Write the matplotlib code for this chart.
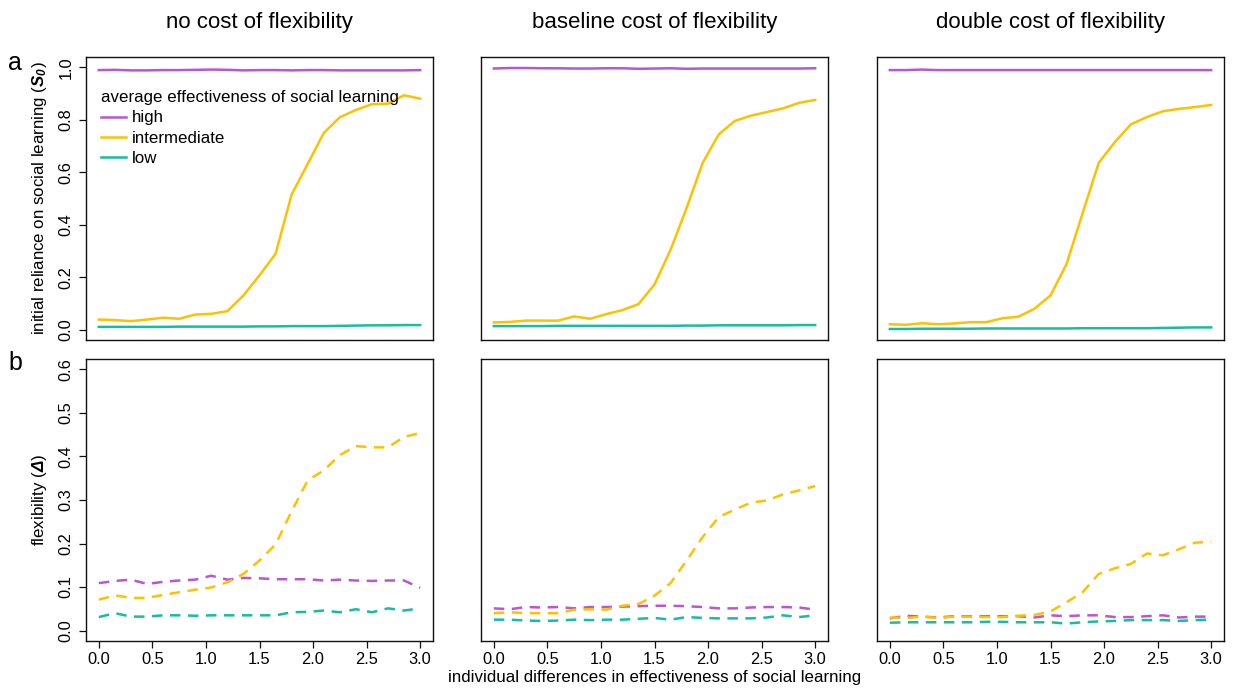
import numpy as np
import matplotlib
matplotlib.use("Agg")
import matplotlib.pyplot as plt
from matplotlib.lines import Line2D

plt.rcParams['font.family'] = ['Liberation Sans', 'DejaVu Sans']
plt.rcParams['mathtext.fontset'] = 'custom'
plt.rcParams['mathtext.rm'] = 'Liberation Sans'
plt.rcParams['mathtext.it'] = 'Liberation Sans:italic'
plt.rcParams['mathtext.bf'] = 'Liberation Sans:bold:italic'

# ---- data ----
x = np.round(np.arange(21) * 0.15, 2)

titles = ["no cost of flexibility", "baseline cost of flexibility", "double cost of flexibility"]
series_names = ["high", "intermediate", "low"]
colors = ["#BA55D3", "#FFC000", "#14BE9E"]

# row a: initial reliance on social learning
a_high_1 = [0.990, 0.991, 0.989, 0.989, 0.990, 0.990, 0.991, 0.992, 0.991, 0.989, 0.990,
            0.990, 0.989, 0.990, 0.990, 0.989, 0.989, 0.989, 0.989, 0.989, 0.990]
a_mid_1 = [0.038, 0.036, 0.032, 0.038, 0.045, 0.041, 0.057, 0.060, 0.070, 0.130, 0.207,
           0.289, 0.515, 0.632, 0.750, 0.810, 0.838, 0.860, 0.862, 0.894, 0.881]
a_low_1 = [0.010, 0.010, 0.010, 0.010, 0.010, 0.011, 0.011, 0.011, 0.011, 0.011, 0.012,
           0.012, 0.013, 0.013, 0.013, 0.014, 0.015, 0.016, 0.016, 0.017, 0.017]

a_high_2 = [0.996, 0.998, 0.998, 0.997, 0.997, 0.996, 0.996, 0.997, 0.997, 0.995, 0.996,
            0.997, 0.995, 0.996, 0.996, 0.996, 0.996, 0.996, 0.996, 0.996, 0.997]
a_mid_2 = [0.027, 0.029, 0.034, 0.034, 0.034, 0.050, 0.041, 0.059, 0.074, 0.097, 0.172,
           0.304, 0.464, 0.636, 0.745, 0.796, 0.816, 0.830, 0.844, 0.865, 0.876]
a_low_2 = [0.013, 0.013, 0.013, 0.013, 0.014, 0.014, 0.014, 0.014, 0.014, 0.014, 0.014,
           0.014, 0.015, 0.015, 0.016, 0.016, 0.016, 0.016, 0.016, 0.017, 0.017]

a_high_3 = [0.990, 0.990, 0.992, 0.990, 0.990, 0.990, 0.990, 0.990, 0.990, 0.990, 0.990,
            0.990, 0.990, 0.990, 0.990, 0.990, 0.990, 0.990, 0.990, 0.990, 0.990]
a_mid_3 = [0.020, 0.018, 0.024, 0.020, 0.023, 0.028, 0.028, 0.043, 0.049, 0.079, 0.130,
           0.250, 0.444, 0.636, 0.715, 0.783, 0.811, 0.833, 0.842, 0.849, 0.857]
a_low_3 = [0.002, 0.002, 0.003, 0.003, 0.003, 0.003, 0.004, 0.004, 0.004, 0.004, 0.004,
           0.004, 0.005, 0.005, 0.005, 0.005, 0.005, 0.006, 0.007, 0.008, 0.008]

# row b: flexibility
b_high_1 = [0.109, 0.114, 0.117, 0.107, 0.112, 0.115, 0.117, 0.126, 0.117, 0.121, 0.120,
            0.118, 0.118, 0.118, 0.115, 0.117, 0.115, 0.114, 0.115, 0.115, 0.098]
b_mid_1 = [0.071, 0.081, 0.075, 0.075, 0.082, 0.088, 0.094, 0.099, 0.111, 0.130, 0.161,
           0.198, 0.274, 0.345, 0.368, 0.403, 0.424, 0.421, 0.421, 0.445, 0.454]
b_low_1 = [0.031, 0.040, 0.032, 0.032, 0.035, 0.035, 0.034, 0.035, 0.035, 0.035, 0.035,
           0.035, 0.042, 0.043, 0.046, 0.042, 0.049, 0.042, 0.051, 0.046, 0.051]

b_high_2 = [0.051, 0.049, 0.054, 0.053, 0.054, 0.051, 0.054, 0.054, 0.055, 0.056, 0.057,
            0.057, 0.056, 0.054, 0.051, 0.051, 0.053, 0.054, 0.054, 0.053, 0.048]
b_mid_2 = [0.040, 0.042, 0.040, 0.040, 0.040, 0.048, 0.049, 0.048, 0.057, 0.061, 0.080,
           0.109, 0.161, 0.215, 0.261, 0.278, 0.294, 0.299, 0.313, 0.322, 0.332]
b_low_2 = [0.025, 0.025, 0.023, 0.022, 0.023, 0.025, 0.024, 0.025, 0.025, 0.027, 0.029,
           0.025, 0.031, 0.029, 0.028, 0.028, 0.028, 0.030, 0.035, 0.031, 0.035]

b_high_3 = [0.028, 0.034, 0.032, 0.030, 0.033, 0.033, 0.033, 0.033, 0.033, 0.030, 0.035,
            0.033, 0.035, 0.035, 0.031, 0.031, 0.033, 0.035, 0.030, 0.032, 0.032]
b_mid_3 = [0.030, 0.029, 0.032, 0.029, 0.032, 0.032, 0.031, 0.031, 0.034, 0.036, 0.044,
           0.065, 0.088, 0.130, 0.143, 0.153, 0.177, 0.173, 0.187, 0.202, 0.204]
b_low_3 = [0.018, 0.019, 0.019, 0.019, 0.019, 0.019, 0.020, 0.020, 0.019, 0.019, 0.019,
           0.016, 0.019, 0.021, 0.022, 0.024, 0.024, 0.024, 0.022, 0.024, 0.025]

row_a = [[a_high_1, a_mid_1, a_low_1], [a_high_2, a_mid_2, a_low_2], [a_high_3, a_mid_3, a_low_3]]
row_b = [[b_high_1, b_mid_1, b_low_1], [b_high_2, b_mid_2, b_low_2], [b_high_3, b_mid_3, b_low_3]]

x_ticks = [0.0, 0.5, 1.0, 1.5, 2.0, 2.5, 3.0]
ya_ticks = [0.0, 0.2, 0.4, 0.6, 0.8, 1.0]
yb_ticks = [0.0, 0.1, 0.2, 0.3, 0.4, 0.5, 0.6]

# ---- figure ----
W, H = 1234, 693
fig = plt.figure(figsize=(W / 100, H / 100), dpi=100)

col_left = [86, 481, 877]
col_w = 347
row_top = [57, 359]
row_bot = [340, 641]

LW = 1.8
tick_fs = 11.8

def make_ax(c, r):
    l = col_left[c] / W
    b = 1 - row_bot[r] / H
    h = (row_bot[r] - row_top[r]) / H
    ax = fig.add_axes([l, b, col_w / W, h])
    for s in ax.spines.values():
        s.set_linewidth(1.0)
        s.set_color("#111111")
    ax.tick_params(direction='out', length=5, width=0.9, labelsize=tick_fs, color="#111111")
    ax.set_xlim(-0.12, 3.12)
    return ax

for c in range(3):
    # top row
    ax = make_ax(c, 0)
    for k in range(3):
        ax.plot(x, row_a[c][k], color=colors[k], lw=LW, solid_joinstyle='round')
    ax.set_ylim(-0.04, 1.04)
    ax.set_xticks([])
    if c == 0:
        ax.set_yticks(ya_ticks)
        ax.set_yticklabels([f"{v:.1f}" for v in ya_ticks], rotation=90, va='center')
        ax.tick_params(axis='y', pad=4)
        ax.set_ylabel(r"initial reliance on social learning ($\mathbf{S_0}$)", fontsize=12.2, labelpad=7)
        handles = [Line2D([], [], color=colors[k], lw=LW) for k in range(3)]
        leg = ax.legend(handles, series_names, title="average effectiveness of social learning",
                        loc='upper left', bbox_to_anchor=(0.044, 0.882), frameon=False,
                        fontsize=12.2, title_fontsize=12.2, alignment='left',
                        handlelength=1.45, handletextpad=0.35, labelspacing=0.3,
                        borderpad=0, borderaxespad=0)
    else:
        ax.set_yticks([])
    ax.set_title(titles[c], fontsize=16, pad=21)

    # bottom row
    ax = make_ax(c, 1)
    for k in range(3):
        ax.plot(x, row_b[c][k], color=colors[k], lw=LW, linestyle=(0, (4.2, 3.0)))
    ax.set_ylim(-0.024, 0.624)
    ax.set_xticks(x_ticks)
    ax.set_xticklabels([f"{v:.1f}" for v in x_ticks])
    ax.tick_params(axis='x', pad=3)
    if c == 0:
        ax.set_yticks(yb_ticks)
        ax.set_yticklabels([f"{v:.1f}" for v in yb_ticks], rotation=90, va='center')
        ax.tick_params(axis='y', pad=4)
        ax.set_ylabel(r"flexibility ($\mathbf{\Delta}$)", fontsize=12.2, labelpad=7)
    else:
        ax.set_yticks([])
    if c == 1:
        ax.set_xlabel("individual differences in effectiveness of social learning", fontsize=12.2, labelpad=2)

fig.text(15 / W, 1 - 70 / H, "a", fontsize=18, ha='center', va='baseline')
fig.text(15 / W, 1 - 370 / H, "b", fontsize=18, ha='center', va='baseline')

fig.savefig("out.png", dpi=100)
